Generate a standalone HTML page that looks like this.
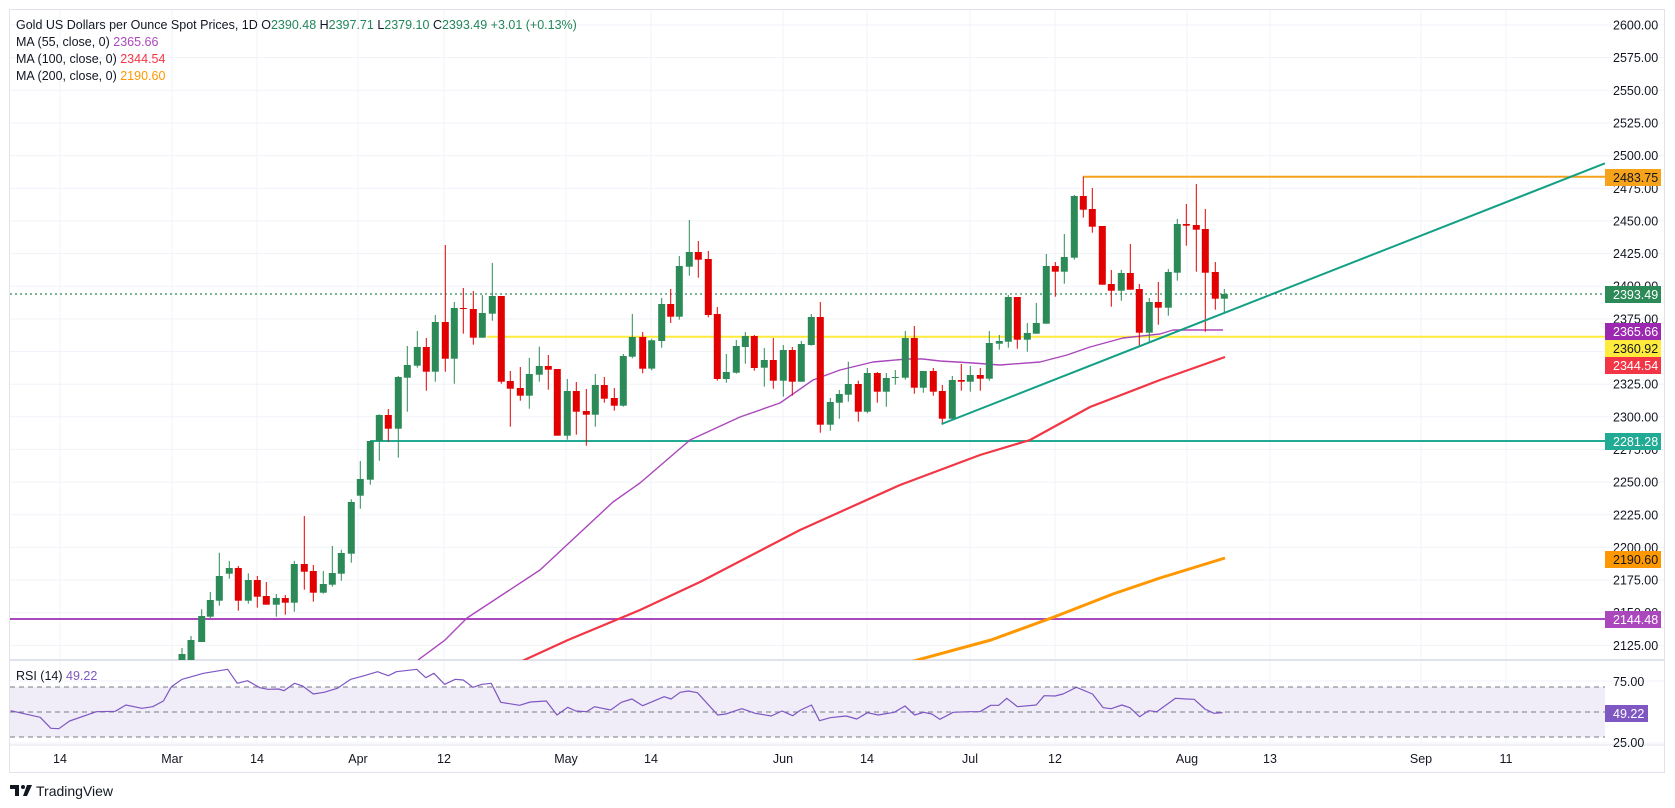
<!DOCTYPE html>
<html><head><meta charset="utf-8">
<style>
html,body{margin:0;padding:0;background:#fff;width:1675px;height:808px;overflow:hidden}
svg{display:block;font-family:"Liberation Sans",sans-serif}
</style></head>
<body>
<svg id="c" width="1675" height="808" xmlns="http://www.w3.org/2000/svg"></svg>
<script>
const G='#2b8a57',R='#e30000';
const py=p=>25+(2600-p)*1.306;
let s='';
s+='<rect x="0" y="0" width="1675" height="808" fill="#fff"/>';
// grid verticals
const vx=[60,172,257,358,444,566,651,783,867,970,1055,1187,1270,1421,1506];
vx.forEach(x=>{s+=`<line x1="${x}" y1="10" x2="${x}" y2="745" stroke="#f0f3fa" stroke-width="1"/>`});
// price gridlines
for(let p=2600;p>=2125;p-=25){const y=py(p).toFixed(1);s+=`<line x1="10" y1="${y}" x2="1664" y2="${y}" stroke="#f0f3fa"/>`;}
// rsi gridlines
[681,743].forEach(y=>s+=`<line x1="10" y1="${y}" x2="1664" y2="${y}" stroke="#f0f3fa"/>`);
// RSI band
s+='<rect x="10" y="687" width="1595" height="50" fill="#f0edf8"/>';
[687,712,737].forEach(y=>s+=`<line x1="10" y1="${y}" x2="1605" y2="${y}" stroke="#787b86" stroke-dasharray="5,4" stroke-width="1"/>`);
// frame
s+='<rect x="9.5" y="9.5" width="1655" height="763" fill="none" stroke="#e0e3eb"/>';
s+='<line x1="10" y1="660" x2="1664" y2="660" stroke="#e0e3eb" stroke-width="2"/>';
s+='<line x1="10" y1="745" x2="1664" y2="745" stroke="#e0e3eb"/>';
s+='<defs><clipPath id="cp"><rect x="10" y="10" width="1595" height="650"/></clipPath></defs>';
s+='<g clip-path="url(#cp)">';
// horizontal lines
s+=`<line x1="10" y1="294" x2="1605" y2="294" stroke="${G}" stroke-dasharray="2,3" stroke-width="1.3"/>`;
s+='<line x1="10" y1="619" x2="1605" y2="619" stroke="#ab47bc" stroke-width="2"/>';
s+='<line x1="370" y1="441" x2="1605" y2="441" stroke="#22ab94" stroke-width="2"/>';
s+='<line x1="487" y1="336.7" x2="1605" y2="336.7" stroke="#ffeb3b" stroke-width="2"/>';
s+='<line x1="1083" y1="176.7" x2="1605" y2="176.7" stroke="#f7a21b" stroke-width="2"/>';
// MAs
const pl=(pts,c,w)=>`<polyline points="${pts.map(p=>p.join(',')).join(' ')}" fill="none" stroke="${c}" stroke-width="${w}" stroke-linejoin="round"/>`;
s+=pl([[910,662],[991,640],[1054,617],[1113,594],[1160,578],[1225,558]],'#ff9800',3);
s+=pl([[520,662],[568,640],[640,610],[700,582],[800,530],[900,485],[980,455],[1030,440],[1090,407],[1160,380],[1225,357]],'#f23645',2.2);
s+=pl([[418,660],[445,640],[467,618],[540,570],[613,502],[640,483],[690,440],[740,417],[780,403],[813,380],[840,370],[873,362],[907,359],[923,359],[940,361],[973,363],[1000,365],[1040,362],[1067,355],[1090,347],[1123,338],[1160,334],[1173,330],[1223,330]],'#ab47bc',1.4);
// candles
const z2=[[185,1308,1386,1288,1386,'g'],[211,1260,1310,1236,1315,'g'],[238,1188,1262,1118,1277,'g'],[268,1164,1181,1143,1196,'g'],[295,1164,1262,1158,1292,'r'],[325,1200,1262,1180,1271,'g'],[352,1200,1250,1188,1283,'r'],[379,1248,1274,1206,1274,'r'],[409,1254,1274,1242,1310,'g'],[436,1254,1268,1245,1304,'r'],[463,1152,1268,1143,1295,'g'],[493,1152,1175,1008,1229,'r'],[520,1173,1238,1155,1265,'r'],[550,1212,1238,1173,1241,'g'],[577,1179,1214,1098,1220,'g'],[604,1119,1181,1109,1202,'g'],[634,966,1121,958,1148,'g'],[661,897,947,843,986,'g'],[691,783,899,783,914,'g'],[718,705,783,703,842,'g'],[745,705,746,687,785,'r'],[775,591,746,588,833,'g'],[802,555,593,498,695,'g'],[832,501,557,453,563,'g'],[859,501,575,474,632,'r'],[886,426,575,405,605,'g'],[916,426,536,195,575,'r'],[943,384,536,366,611,'g'],[970,384,386,324,461,'r'],[1000,387,473,333,494,'r'],[1027,399,473,345,473,'g'],[1057,348,401,249,422,'g'],[1084,348,605,348,611,'r'],[1111,603,626,573,740,'r'],[1141,624,647,561,662,'r'],[1168,582,647,534,686,'g'],[1198,558,584,500,605,'g'],[1225,558,569,525,629,'r'],[1252,567,767,567,767,'r'],[1282,633,767,597,779,'g'],[1309,633,695,606,764,'r'],[1339,693,704,627,797,'r'],[1366,615,704,582,740,'g'],[1393,615,656,591,668,'r'],[1423,654,677,624,692,'r'],[1450,528,677,522,680,'g'],[1477,471,530,402,535,'g']];
const z3=[[8,531,626,516,640,'r'],[35,541,626,536,631,'g'],[65,432,543,414,563,'g'],[92,432,470,387,489,'r'],[118,318,470,288,479,'g'],[148,276,320,180,347,'g'],[175,276,299,243,353,'r'],[205,297,465,273,472,'r'],[232,462,657,441,662,'r'],[259,636,657,582,668,'g'],[289,558,638,540,641,'g'],[316,528,561,516,611,'g'],[343,528,624,525,632,'r'],[373,600,623,564,680,'g'],[400,600,662,534,686,'r'],[430,570,662,555,710,'g'],[457,570,665,561,707,'r'],[484,552,665,543,665,'g'],[514,471,555,462,557,'g'],[541,471,794,426,818,'r'],[571,726,794,714,812,'g'],[598,702,728,690,776,'g'],[625,672,704,605,725,'g'],[655,672,755,662,785,'r'],[682,639,755,624,760,'g'],[712,639,695,636,728,'r'],[739,654,695,639,740,'g'],[766,651,654,630,674,'g'],[796,534,653,513,659,'g'],[823,534,683,498,701,'r'],[850,633,683,633,698,'g'],[880,633,695,624,707,'r'],[907,693,776,675,794,'r'],[937,660,776,648,778,'g'],[964,660,665,612,692,'r'],[991,645,665,618,695,'g'],[1021,645,656,624,692,'r'],[1048,549,656,513,662,'g'],[1078,543,551,525,569,'g'],[1105,411,545,405,563,'g'],[1132,411,539,411,566,'r'],[1162,519,539,489,575,'g'],[1189,489,521,429,521,'g'],[1219,318,491,282,491,'g'],[1246,318,335,306,410,'r'],[1273,291,335,222,371,'g'],[1303,108,293,105,299,'g'],[1330,108,149,50,173,'r'],[1357,147,200,84,218,'r'],[1387,198,374,198,374,'r'],[1414,372,392,330,440,'r'],[1444,339,392,330,422,'g'],[1471,339,389,252,389,'r'],[1498,387,518,372,557,'r']];
const z8=[[28,426,518,414,545,'g'],[55,426,443,366,494,'r'],[85,336,443,327,467,'g'],[112,192,338,177,362,'g'],[139,192,197,132,257,'r'],[169,195,209,72,335,'r'],[196,207,338,147,515,'r'],[226,336,416,306,449,'r'],[253,402,416,387,458,'g']];
const cs=[[182,654,662,648,662,'g'],[191,640,662,636,662,'g']];
z2.forEach(c=>cs.push([140+c[0]/3,180+c[1]/3,180+c[2]/3,180+c[3]/3,180+c[4]/3,c[5]]));
z3.forEach(c=>cs.push([640+c[0]/3,160+c[1]/3,160+c[2]/3,160+c[3]/3,160+c[4]/3,c[5]]));
z8.forEach(c=>cs.push([1140+c[0]/3,160+c[1]/3,160+c[2]/3,160+c[3]/3,160+c[4]/3,c[5]]));
cs.forEach(c=>{const col=c[5]=='g'?G:R;const x=c[0].toFixed(1);
s+=`<line x1="${x}" y1="${c[3].toFixed(1)}" x2="${x}" y2="${c[4].toFixed(1)}" stroke="${col}" stroke-width="1"/>`;
const h=Math.max(1,c[2]-c[1]);
s+=`<rect x="${(c[0]-3.5).toFixed(1)}" y="${c[1].toFixed(1)}" width="7" height="${h.toFixed(1)}" fill="${col}"/>`;});
// trendline
s+='<line x1="941.7" y1="424" x2="1605" y2="163.3" stroke="#13a085" stroke-width="2"/>';
s+='</g>';
// RSI line
const r6=[[20,212],[75,232],[95,265],[110,266],[130,243],[180,215],[215,214],[235,195],[265,205],[285,200],[305,183],[320,140],[340,118],[380,100],[425,88],[443,130],[462,122],[485,143],[500,148],[520,147],[530,152],[550,130],[565,138],[585,162],[605,157],[630,145],[655,118],[680,107],[705,95],[725,107],[740,95],[778,88],[795,113],[810,100],[830,133],[850,118],[865,120],[883,142],[900,133],[917,130],[935,187],[970,196],[990,186],[1020,183],[1040,225],[1060,202],[1075,213],[1095,215],[1110,200],[1140,210],[1160,187],[1180,177],[1200,197],[1240,170],[1253,177],[1270,157],[1285,153],[1302,158],[1340,225],[1355,222],[1385,206],[1410,220],[1440,228],[1460,213],[1480,227],[1495,210],[1515,195],[1530,242],[1550,233]];
const r7=[[0,233],[30,228],[50,237],[70,218],[90,225],[120,217],[140,198],[158,225],[175,217],[190,222],[205,238],[230,217],[260,215],[280,215],[300,196],[315,196],[330,175],[350,200],[385,195],[400,167],[420,168],[435,162],[460,142],[490,162],[510,203],[525,206],[545,195],[560,203],[578,230],[595,212],[610,215],[645,175],[665,177],[680,178],[700,207],[717,220],[733,218]];
const rp=r6.map(p=>[(p[0]/1.867).toFixed(1),(640+p[1]/3).toFixed(1)]).concat(r7.map(p=>[(830+p[0]/1.867).toFixed(1),(640+p[1]/3).toFixed(1)]));
s+=pl(rp,'#7e57c2',1.2);
// price axis labels
for(let p=2600;p>=2125;p-=25){s+=`<text x="1613" y="${(py(p)+4.5).toFixed(1)}" font-size="12.5" fill="#131722">${p.toFixed(2)}</text>`;}
s+='<text x="1613" y="686" font-size="12.5" fill="#131722">75.00</text><text x="1613" y="747" font-size="12.5" fill="#131722">25.00</text>';
// boxes
const bx=[[169,'#f7a21b','#131722','2483.75'],[286,'#2b8a57','#fff','2393.49'],[323,'#9c27b0','#fff','2365.66'],[340,'#ffeb3b','#131722','2360.92'],[357,'#f23645','#fff','2344.54'],[433,'#22ab94','#fff','2281.28'],[551,'#ff9800','#131722','2190.60'],[611,'#ab47bc','#fff','2144.48']];
bx.forEach(b=>{s+=`<rect x="1605" y="${b[0]}" width="56" height="17" fill="${b[1]}"/><text x="1613" y="${b[0]+13}" font-size="12.5" fill="${b[2]}">${b[3]}</text>`;});
s+='<rect x="1605" y="705" width="43" height="17" fill="#7e57c2"/><text x="1613" y="718" font-size="12.5" fill="#fff">49.22</text>';
// time labels
const tl=[[60,'14'],[172,'Mar'],[257,'14'],[358,'Apr'],[444,'12'],[566,'May'],[651,'14'],[783,'Jun'],[867,'14'],[970,'Jul'],[1055,'12'],[1187,'Aug'],[1270,'13'],[1421,'Sep'],[1506,'11']];
tl.forEach(t=>s+=`<text x="${t[0]}" y="763" font-size="12.5" fill="#131722" text-anchor="middle">${t[1]}</text>`);
// legend
const gt='#22865a';
s+=`<text x="16" y="29" font-size="12.5" fill="#131722">Gold US Dollars per Ounce Spot Prices, 1D  O<tspan fill="${gt}">2390.48</tspan>  H<tspan fill="${gt}">2397.71</tspan>  L<tspan fill="${gt}">2379.10</tspan>  C<tspan fill="${gt}">2393.49</tspan>  <tspan fill="${gt}">+3.01 (+0.13%)</tspan></text>`;
s+='<text x="16" y="46" font-size="12.5" fill="#131722">MA (55, close, 0)  <tspan fill="#ab47bc">2365.66</tspan></text>';
s+='<text x="16" y="63" font-size="12.5" fill="#131722">MA (100, close, 0)  <tspan fill="#f23645">2344.54</tspan></text>';
s+='<text x="16" y="80" font-size="12.5" fill="#131722">MA (200, close, 0)  <tspan fill="#ff9800">2190.60</tspan></text>';
s+='<text x="16" y="680" font-size="12.5" fill="#131722">RSI (14)  <tspan fill="#7e57c2">49.22</tspan></text>';
// logo
s+='<path d="M10 785h9v11h-4v-7h-5z" fill="#131722"/><circle cx="23" cy="787" r="2" fill="#131722"/><path d="M27 785h5l-5 11h-4z" fill="#131722"/>';
s+='<text x="36" y="796" font-size="14" fill="#131722">TradingView</text>';
document.getElementById('c').innerHTML=s;
</script>
</body></html>
